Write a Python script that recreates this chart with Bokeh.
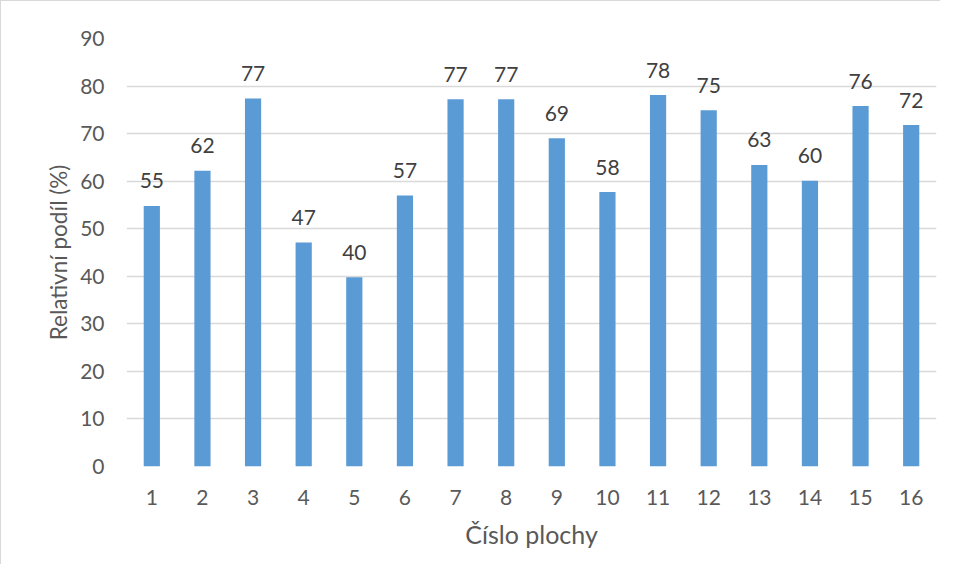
from bokeh.plotting import figure
from bokeh.models import ColumnDataSource, Range1d, FactorRange, FixedTicker, Title
from bokeh.core.properties import value
from bokeh.embed import file_html
from bokeh.resources import INLINE

categories = [str(i) for i in range(1, 17)]
values = [54.8, 62.2, 77.4, 47.1, 39.8, 57.0, 77.2, 77.2, 69.0, 57.7, 78.1, 74.9, 63.4, 60.1, 75.8, 71.8]
y_ticks = [0, 10, 20, 30, 40, 50, 60, 70, 80, 90]
labels = [str(int(round(v))) for v in values]
x_title = "Číslo plochy"
y_title = "Relativní podíl (%)"

FONT = "Lato"
TXT = "#595959"

source = ColumnDataSource(dict(x=categories, top=values, label=labels))

p = figure(
    width=940, height=564,
    x_range=FactorRange(*categories, range_padding=0),
    y_range=Range1d(0, 90),
    output_backend="svg", toolbar_location=None,
    min_border_left=125, min_border_right=5, min_border_top=37, min_border_bottom=99,
)
p.styles = {"border-top": "1.5px solid #d9d9d9", "border-left": "1.5px solid #d9d9d9"}
p.outline_line_color = None
p.background_fill_color = "white"
p.border_fill_color = "white"

p.vbar(x="x", top="top", width=0.32, bottom=0, source=source,
       fill_color="#5B9BD5", line_color=None)

p.text(x="x", y="top", text="label", source=source,
       text_font=value(FONT), text_font_size="21px", text_color="#404040",
       text_align="center", text_baseline="alphabetic", y_offset=-25)

p.xgrid.grid_line_color = None
p.ygrid.grid_line_color = "#d9d9d9"
p.ygrid.grid_line_width = 1.5
p.yaxis.ticker = FixedTicker(ticks=y_ticks)

for ax in (p.xaxis[0], p.yaxis[0]):
    ax.axis_line_color = None
    ax.major_tick_line_color = None
    ax.minor_tick_line_color = None
    ax.major_label_text_font = FONT
    ax.major_label_text_font_size = "21px"
    ax.major_label_text_color = TXT
    ax.axis_label_text_font = FONT
    ax.axis_label_text_color = TXT
    ax.axis_label_text_font_style = "normal"

p.xaxis.axis_label = x_title
p.xaxis.axis_label_text_font_size = "25px"
p.xaxis.major_label_standoff = 17
p.yaxis.major_label_standoff = 16
p.xaxis.axis_label_standoff = 11

ytitle = Title(text=y_title, align="center", standoff=11,
               text_font=FONT, text_font_size="22.5px", text_color=TXT,
               text_font_style="normal")
p.add_layout(ytitle, "left")

open("out.html", "w").write(file_html(p, INLINE))
